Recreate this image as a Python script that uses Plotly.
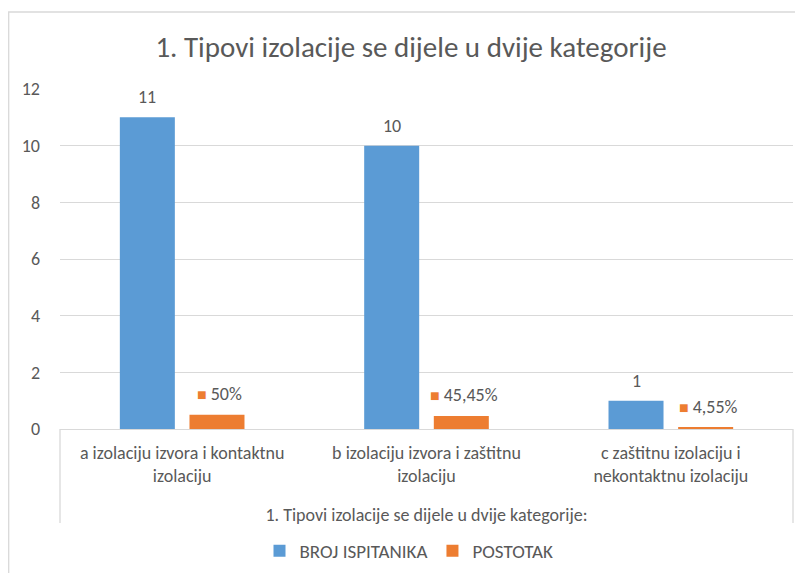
import plotly.graph_objects as go

categories = ["a izolaciju izvora i kontaktnu izolaciju",
              "b izolaciju izvora i zaštitnu izolaciju",
              "c zaštitnu izolaciju i nekontaktnu izolaciju"]
tick_labels = ["a izolaciju izvora i kontaktnu<br>izolaciju",
               "b izolaciju izvora i zaštitnu<br>izolaciju",
               "c zaštitnu izolaciju i<br>nekontaktnu izolaciju"]
broj = [11, 10, 1]
postotak = [0.5, 0.4545, 0.0455]
series_names = ["BROJ ISPITANIKA", "POSTOTAK"]
y_ticks = [0, 2, 4, 6, 8, 10, 12]

BLUE = "#5B9BD5"
ORANGE = "#ED7D31"
TXT = "#595959"
GRID = "#D9D9D9"
FONT = "Carlito, Calibri, Lato, sans-serif"

# page body adds an 8px margin, so the figure is sized to fit the window
W, H = 795, 565
ML, MR, MT, MB = 52, 10, 81, 144
PW = W - ML - MR
PH = H - MT - MB
BARGAP = 0.43
BARGROUPGAP = 0.21

def pct_label(v):
    s = f"{v*100:.2f}".rstrip("0").rstrip(".")
    return s.replace(".", ",") + "%"

fig = go.Figure()
fig.add_trace(go.Bar(x=categories, y=broj, name=series_names[0],
                     marker=dict(color=BLUE, line=dict(width=0))))
fig.add_trace(go.Bar(x=categories, y=postotak, name=series_names[1],
                     marker=dict(color=ORANGE, line=dict(width=0))))

cat_px = PW / len(categories)
offset_px = (1 - BARGAP) / 4 * cat_px

for c, v in zip(categories, broj):
    fig.add_annotation(x=c, y=v, text=str(v), showarrow=False,
                       xshift=-offset_px, yshift=7, yanchor="bottom",
                       font=dict(family=FONT, size=18, color=TXT))
for c, v in zip(categories, postotak):
    fig.add_annotation(x=c, y=v,
                       text=f'<span style="color:{ORANGE};font-size:16px">■</span> {pct_label(v)}',
                       showarrow=False, xshift=offset_px + 3, yshift=8, yanchor="bottom",
                       font=dict(family=FONT, size=18, color=TXT))

# multi-level category box lines
box_bottom = -(94 / PH)
for xp in (0, 1):
    fig.add_shape(type="line", xref="paper", yref="paper", x0=xp, x1=xp,
                  y0=0, y1=box_bottom, line=dict(color=GRID, width=1.3))

# chart border
fig.add_shape(type="rect", xref="paper", yref="paper",
              x0=(0.7 - ML) / PW, x1=(W + 20 - ML) / PW,
              y0=-(MB + 20) / PH, y1=(PH + MT - 4) / PH,
              line=dict(color=GRID, width=1.3))

fig.update_layout(
    width=W, height=H,
    margin=dict(l=ML, r=MR, t=MT, b=MB, autoexpand=False),
    paper_bgcolor="white", plot_bgcolor="white",
    barmode="group", bargap=BARGAP, bargroupgap=BARGROUPGAP,
    title=dict(text="1. Tipovi izolacije se dijele u dvije kategorije",
               x=403 / W, xanchor="center", y=1 - 39 / H, yanchor="middle",
               font=dict(family=FONT, size=29, color=TXT)),
    font=dict(family=FONT, color=TXT),
    showlegend=True,
    legend=dict(orientation="h", x=401 / W, xanchor="center", xref="container",
                y=1 - 543 / H, yanchor="middle", yref="container",
                font=dict(family=FONT, size=19, color=TXT),
                itemwidth=30, traceorder="normal"),
    xaxis=dict(tickmode="array", tickvals=categories, ticktext=tick_labels,
               tickfont=dict(family=FONT, size=18, color=TXT),
               showline=True, linecolor=GRID, linewidth=1.3,
               ticks="", showgrid=False, automargin=False, ticklabelstandoff=7,
               title=dict(text="1. Tipovi izolacije se dijele u dvije kategorije:",
                          font=dict(family=FONT, size=18, color=TXT), standoff=22)),
    yaxis=dict(range=[0, 12], tickvals=y_ticks, showgrid=True, gridcolor=GRID,
               gridwidth=1.3, zeroline=False, showline=False, ticks="",
               automargin=False,
               tickfont=dict(family=FONT, size=18, color=TXT), ticklabelstandoff=19),
)

fig.write_html("out.html")
